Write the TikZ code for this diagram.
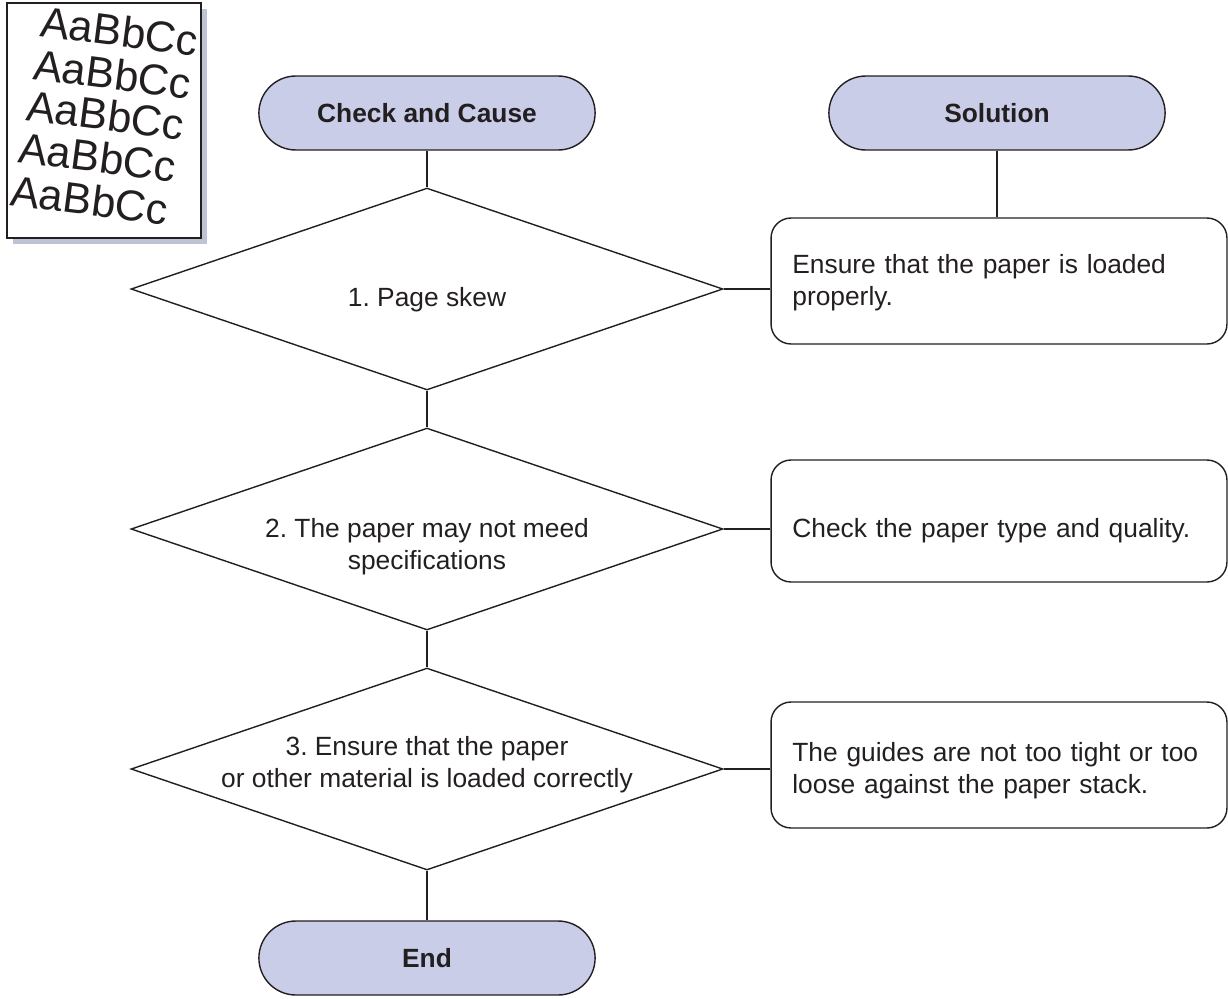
\documentclass[tikz,border=0pt]{standalone}
\usepackage{fontspec}
\setmainfont{Liberation Sans}
\usepackage{tikz}
\usetikzlibrary{shapes.geometric,shapes.misc,positioning,calc}
\definecolor{headlavender}{RGB}{201, 205, 232}
\definecolor{inkgray}{RGB}{35, 31, 32}
\definecolor{shadowgray}{RGB}{190, 196, 212}
\frenchspacing

\begin{document}
\begin{tikzpicture}[x=0.02cm, y=-0.02cm,
    line/.style={line width=0.8pt, color=inkgray},
    terminal/.style={rounded rectangle, draw=inkgray, line width=0.8pt, fill=headlavender,
        minimum width=6.96cm, minimum height=1.48cm, font=\fontsize{15}{18}\selectfont\bfseries, text=inkgray},
    decision/.style={diamond, draw=inkgray, line width=0.8pt, inner sep=0pt,
        minimum width=11.84cm, minimum height=4.04cm},
    dtext/.style={align=center, font=\fontsize{15}{18.2}\selectfont, text=inkgray},
    fixbox/.style={rectangle, rounded corners=0.4cm, draw=inkgray, line width=0.8pt,
        minimum width=9.12cm, minimum height=2.52cm},
    btext/.style={anchor=west, inner sep=0pt, text width=8.28cm, align=left,
        font=\fontsize{15}{18.2}\selectfont, text=inkgray},
    skew/.style={anchor=base west, rotate=-7.5, inner sep=0pt, text=inkgray,
        font=\fontsize{24.5}{26}\selectfont}]
    \useasboundingbox (0,0) rectangle (1228,998);

    % Skewed page sample
    \fill[shadowgray] (13,9) rectangle (207,244);
    \draw[line width=0.6pt, color=inkgray, fill=white] (7,3) rectangle (201,238);
    \node[skew] (row1) at (39,36) {AaBbCc};
    \node[skew] (row2) at (32,79) {AaBbCc};
    \node[skew] (row3) at (25,120) {AaBbCc};
    \node[skew] (row4) at (17,162) {AaBbCc};
    \node[skew] (row5) at (9,205) {AaBbCc};

    % Column heads
    \node[terminal] (check) at (427,113) {Check and Cause};
    \node[terminal] (sol) at (997,113) {Solution};

    % Checks
    \node[decision] (d1) at (427,289) {};
    \node[dtext] at (427,300) {1. Page skew};
    \node[decision] (d2) at (427,529) {};
    \node[dtext] at (427,547) {2. The paper may not meed\\specifications};
    \node[decision] (d3) at (427,769) {};
    \node[dtext] at (427,765) {3. Ensure that the paper\\or other material is loaded correctly};

    % End
    \node[terminal] (end) at (427,958) {End};

    % Solutions
    \node[fixbox] (s1) at (999,281) {};
    \node[btext] at (792,283) {Ensure that the paper is loaded\\properly.};
    \node[fixbox, minimum height=2.44cm] (s2) at (999,521) {};
    \node[btext] at (792,531) {Check the paper type and quality.};
    \node[fixbox] (s3) at (999,765) {};
    \node[btext] at (792,771) {The guides are not too tight or too\\loose against the paper stack.};

    % Connectors
    \draw[line] (check.south) -- (d1.north);
    \draw[line] (d1.south) -- (d2.north);
    \draw[line] (d2.south) -- (d3.north);
    \draw[line] (d3.south) -- (end.north);
    \draw[line] (sol.south) -- (s1.north -| sol.south);
    \draw[line] (d1.east) -- (d1.east -| s1.west);
    \draw[line] (d2.east) -- (d2.east -| s2.west);
    \draw[line] (d3.east) -- (d3.east -| s3.west);
\end{tikzpicture}
\end{document}
